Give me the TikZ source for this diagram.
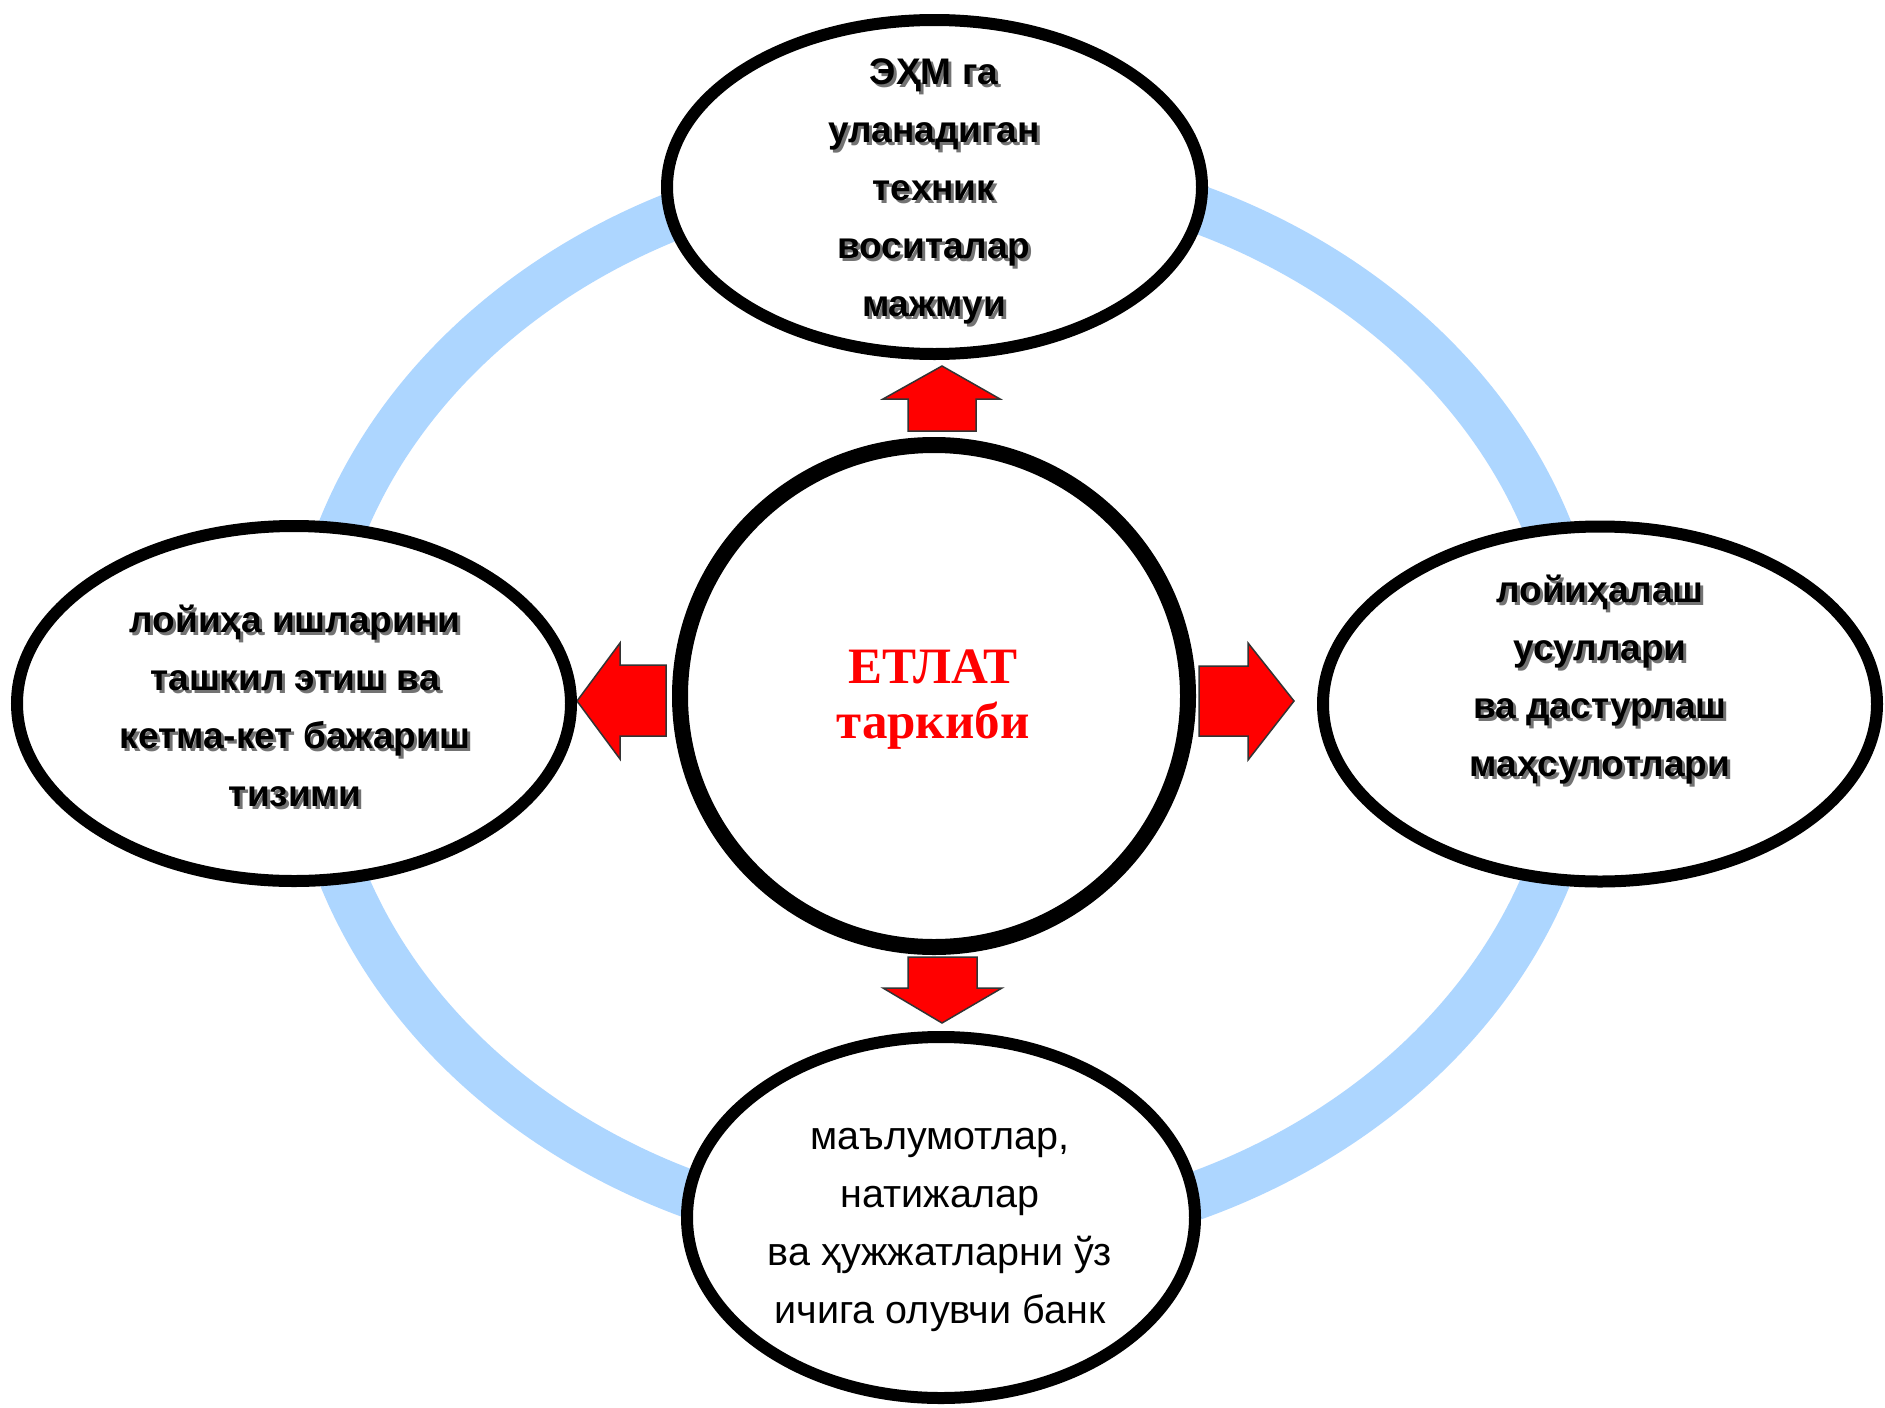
\documentclass[tikz,border=0pt]{standalone}
\usepackage{fontspec}
\setmainfont{Liberation Sans}
\newfontfamily\serifbold{Liberation Serif}
\usetikzlibrary{shapes.geometric}
\definecolor{ringblue}{RGB}{173,214,255}
\tikzset{
  blob/.style={ellipse, draw=black, line width=12pt, fill=white, inner sep=0pt},
  hub/.style={ellipse, draw=black, line width=16pt, fill=white, inner sep=0pt},
  lbl/.style={align=center, inner sep=0pt, font=\fontsize{37}{58}\selectfont\bfseries, text=black},
  lblshadow/.style={lbl, text=black!55},
  plainlbl/.style={align=center, inner sep=0pt, font=\fontsize{39.5}{58}\selectfont, text=black},
  titlelbl/.style={align=center, inner sep=0pt, font=\serifbold\fontsize{51}{55}\selectfont\bfseries, text=red},
  blockarrow/.style={fill=red, draw=black!80, line width=1.5pt, line join=miter},
  ring/.style={draw=ringblue, line width=48pt}
}
\begin{document}
\begin{tikzpicture}[x=1pt,y=-1pt]
\path[use as bounding box, fill=white] (0,0) rectangle (1885,1408);

% blue ring
\draw[ring] (945,702) ellipse [x radius=637, y radius=537];

% block arrows
\draw[blockarrow] (942,366) -- (1000,399) -- (976,399) -- (976,431) -- (908,431) -- (908,399) -- (883,399) -- cycle;
\draw[blockarrow] (577,701) -- (620,643) -- (620,665) -- (666,665) -- (666,736) -- (620,736) -- (620,759) -- cycle;
\draw[blockarrow] (1199,666) -- (1248,666) -- (1248,643) -- (1294,701) -- (1248,760) -- (1248,736) -- (1199,736) -- cycle;
\draw[blockarrow] (908,957) -- (977,957) -- (977,988) -- (1002,988) -- (942,1023) -- (883,988) -- (908,988) -- cycle;

% ellipses
\node[blob, minimum width=535pt, minimum height=334pt] (top) at (934.5,187) {};
\node[blob, minimum width=554pt, minimum height=355pt] (left) at (294,703.5) {};
\node[blob, minimum width=554pt, minimum height=355pt] (right) at (1600,704) {};
\node[blob, minimum width=508pt, minimum height=361pt] (bottom) at (941,1217.5) {};
\node[hub, minimum width=508pt, minimum height=502pt] (hub) at (934,696) {};

% texts
\node[lblshadow] (topS) at (937,194) {ЭҲМ га\\уланадиган\\техник\\воситалар\\мажмуи};
\node[lbl] (topT) at (934,191) {ЭҲМ га\\уланадиган\\техник\\воситалар\\мажмуи};

\node[lblshadow] (leftS) at (298,709) {лойиҳа ишларини\\ташкил этиш ва\\кетма-кет бажариш\\тизими};
\node[lbl] (leftT) at (295,706) {лойиҳа ишларини\\ташкил этиш ва\\кетма-кет бажариш\\тизими};

\node[lblshadow] (rightS) at (1603,683) {лойиҳалаш\\усуллари\\ва дастурлаш\\маҳсулотлари};
\node[lbl] (rightT) at (1600,680) {лойиҳалаш\\усуллари\\ва дастурлаш\\маҳсулотлари};

\node[plainlbl] (bottomT) at (940,1230) {маълумотлар,\\натижалар\\ва ҳужжатларни ўз\\ичига олувчи банк};

\node[titlelbl] (title) at (933,700) {ЕТЛАТ\\таркиби};
\end{tikzpicture}
\end{document}
